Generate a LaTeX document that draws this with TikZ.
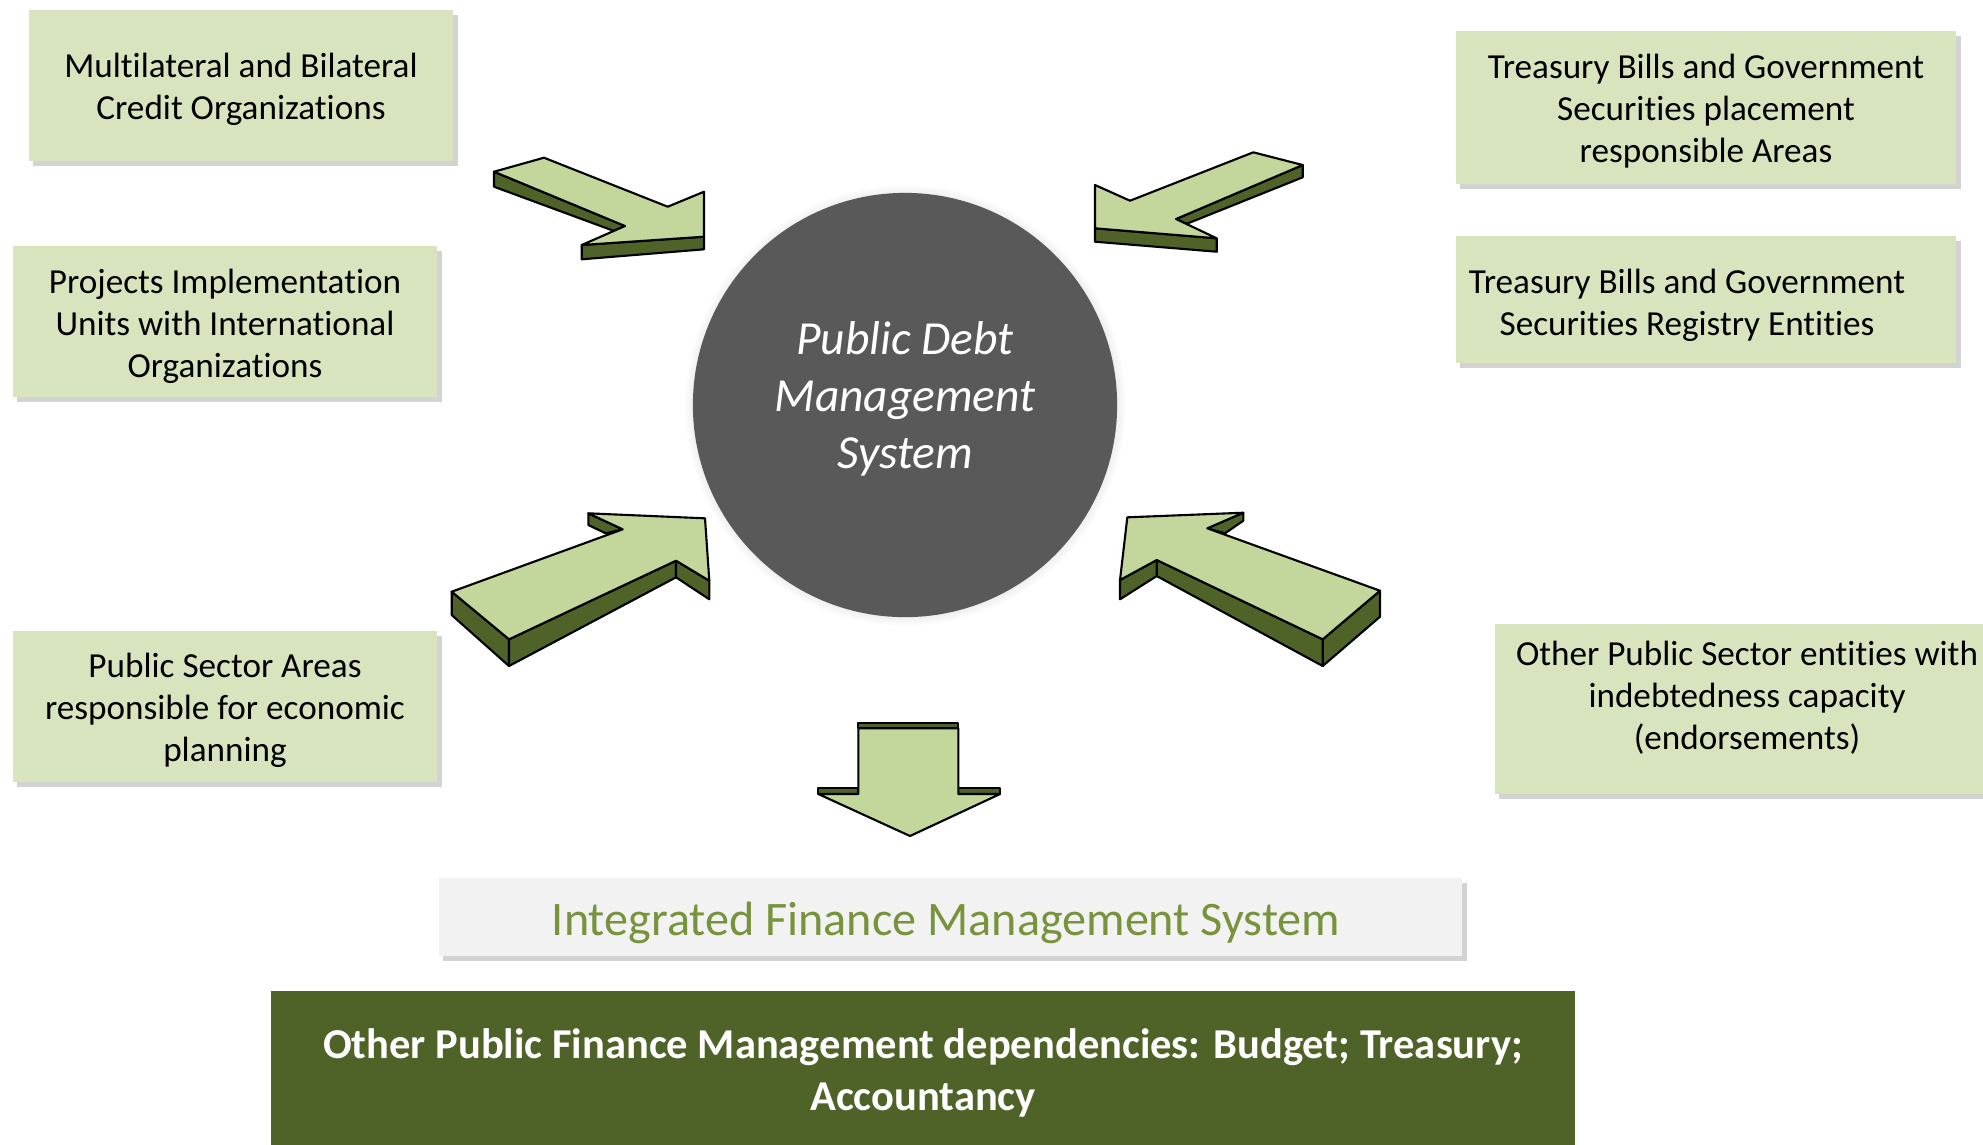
\documentclass[tikz,border=0pt]{standalone}
\usepackage{fontspec}
\setmainfont[Ligatures=NoCommon]{Carlito}
\usetikzlibrary{shadows}
\definecolor{boxgreen}{HTML}{D7E4BD}
\definecolor{arrowlight}{HTML}{C3D69B}
\definecolor{arrowdark}{HTML}{4F6228}
\definecolor{ifmsgrey}{HTML}{F2F2F2}
\definecolor{ifmsgreen}{HTML}{77933C}
\definecolor{debtgrey}{HTML}{595959}

\begin{document}
\begin{tikzpicture}[x=0.01cm,y=-0.01cm,
  orgbox/.style={rectangle, fill=boxgreen, inner sep=0pt,
    drop shadow={shadow xshift=1.3pt, shadow yshift=-1.3pt, opacity=0.35}},
  boxtext/.style={align=center, inner sep=0pt, font=\fontsize{10}{11.9}\selectfont},
  arrowtop/.style={fill=arrowlight, draw=black, line width=0.6pt, line join=round},
  arrowside/.style={fill=arrowdark, draw=black, line width=0.6pt, line join=round}]
\useasboundingbox (0,0) rectangle (1983,1144);

% sources
\node [orgbox, minimum width=4.24cm, minimum height=1.51cm] (credit) at (241,85.5) {};
\node [boxtext] (credittext) at (241,89.3)
  {Multilateral and Bilateral\\Credit Organizations};
\node [orgbox, minimum width=4.24cm, minimum height=1.51cm] (projects) at (225,321.5) {};
\node [boxtext] (projectstext) at (225,326.5)
  {Projects Implementation\\Units with International\\Organizations};
\node [orgbox, minimum width=4.24cm, minimum height=1.51cm] (planning) at (225,706.5) {};
\node [boxtext] (planningtext) at (225,710.3)
  {Public Sector Areas\\responsible for economic\\planning};
\node [orgbox, minimum width=5cm, minimum height=1.53cm] (placement) at (1706,107.5) {};
\node [boxtext] (placementtext) at (1706,111.3)
  {Treasury Bills and Government\\Securities placement\\responsible Areas};
\node [orgbox, minimum width=5cm, minimum height=1.27cm] (registry) at (1706,299.5) {};
\node [boxtext] (registrytext) at (1687,305.2)
  {Treasury Bills and Government\\Securities Registry Entities};
\node [orgbox, minimum width=5.04cm, minimum height=1.7cm] (endorse) at (1747,709) {};
\node [boxtext] (endorsetext) at (1747,697.6)
  {Other Public Sector entities with\\indebtedness capacity\\(endorsements)};

% centre
\node [circle, fill=debtgrey, minimum size=4.24cm,
  circular drop shadow={shadow xshift=0pt, shadow yshift=0pt, shadow scale=1.04, opacity=0.45}]
  (pdms) at (905,405) {};
\node [align=center, inner sep=0pt, text=white, font=\fontsize{13.5}{16.2}\selectfont\itshape]
  (pdmstext) at (905,398.7) {Public Debt\\Management\\System};

% arrow from top left
\filldraw [arrowside] (494,171.7) -- (625,226) -- (613.3,230.7) -- (494,186.7) -- cycle;
\filldraw [arrowside] (581.7,245) -- (704,236.7) -- (704,249.3) -- (581.7,259.3) -- cycle;
\filldraw [arrowtop] (494,171.7) -- (544,157.7) -- (667.7,206.7) -- (704,191.7)
  -- (704,236.7) -- (581.7,245) -- (625,226) -- cycle;

% arrow from top right
\filldraw [arrowside] (1302.7,165) -- (1302.7,177.3) -- (1186.7,223.8) -- (1176,219) -- cycle;
\filldraw [arrowside] (1095,228.3) -- (1216.7,238.3) -- (1216.7,251.7) -- (1095,241.7) -- cycle;
\filldraw [arrowtop] (1302.7,165) -- (1253.3,152.3) -- (1130,200.7) -- (1095,185)
  -- (1095,228.3) -- (1216.7,238.3) -- (1176,219) -- cycle;

% arrow from bottom left
\filldraw [arrowside] (451.7,591.7) -- (509,639.3) -- (509,666) -- (451.7,615) -- cycle;
\filldraw [arrowside] (509,639.3) -- (676,560.7) -- (676,577.3) -- (509,666) -- cycle;
\filldraw [arrowside] (676,560.7) -- (709.3,580.7) -- (709.3,599.3) -- (676,577.3) -- cycle;
\filldraw [arrowside] (588.3,513.3) -- (622.7,529.3) -- (605.7,533.3) -- (588.3,525) -- cycle;
\filldraw [arrowtop] (451.7,591.7) -- (509,639.3) -- (676,560.7) -- (709.3,580.7)
  -- (705,518.3) -- (588.3,513.3) -- (622.7,529.3) -- cycle;

% arrow from bottom right
\filldraw [arrowside] (1380,590.7) -- (1380,616.7) -- (1322.7,666) -- (1322.7,639.3) -- cycle;
\filldraw [arrowside] (1322.7,639.3) -- (1322.7,666) -- (1156.7,576) -- (1156.7,560) -- cycle;
\filldraw [arrowside] (1156.7,560) -- (1156.7,576) -- (1120,599.3) -- (1120,580) -- cycle;
\filldraw [arrowside] (1243.3,512.7) -- (1243.3,520.7) -- (1225,533.3) -- (1207.3,528.3) -- cycle;
\filldraw [arrowtop] (1380,590.7) -- (1322.7,639.3) -- (1156.7,560) -- (1120,580)
  -- (1127.3,517.3) -- (1243.3,512.7) -- (1207.3,528.3) -- cycle;

% arrow down
\filldraw [arrowside] (858.3,722.7) rectangle (958.3,728.3);
\filldraw [arrowside] (818.3,787.7) rectangle (858.3,794);
\filldraw [arrowside] (958.3,787.7) rectangle (1000,794);
\filldraw [arrowtop] (858.3,728.3) -- (958.3,728.3) -- (958.3,794) -- (1000,794)
  -- (910,836) -- (818.3,794) -- (858.3,794) -- cycle;

% output
\node [orgbox, fill=ifmsgrey, minimum width=10.23cm, minimum height=0.78cm] (ifms) at (950.5,917) {};
\node [inner sep=0pt, text=ifmsgreen, font=\fontsize{13.7}{16}\selectfont]
  (ifmstext) at (946,923.3) {Integrated Finance Management System};
\node [rectangle, fill=arrowdark, minimum width=13.04cm, minimum height=1.64cm,
  text=white, align=center, font=\fontsize{12.1}{14.8}\selectfont\bfseries]
  (pfm) at (923,1073)
  {Other Public Finance Management dependencies: Budget; Treasury;\\Accountancy};
\end{tikzpicture}
\end{document}
